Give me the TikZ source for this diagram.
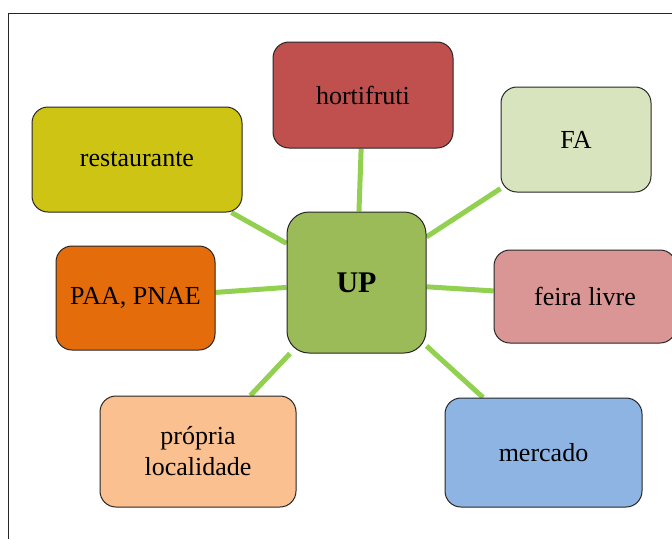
\documentclass[tikz,border=0pt]{standalone}
\usepackage{fontspec}
\setmainfont{Liberation Serif}
\usetikzlibrary{backgrounds}

\definecolor{linkgreen}{RGB}{146,208,80}
\definecolor{upgreen}{RGB}{155,187,89}
\definecolor{hortired}{RGB}{192,80,77}
\definecolor{falight}{RGB}{215,228,189}
\definecolor{restyellow}{RGB}{205,196,19}
\definecolor{paaorange}{RGB}{228,108,10}
\definecolor{feirapink}{RGB}{217,150,148}
\definecolor{propriapeach}{RGB}{250,192,144}
\definecolor{mercadoblue}{RGB}{142,180,227}

\begin{document}
\begin{tikzpicture}[x=1pt,y=-1pt,
  box/.style={draw=black!85,line width=1pt,rounded corners=16pt,inner sep=0pt,
    align=center,font=\fontsize{26}{31}\selectfont},
  link/.style={draw=linkgreen,line width=5pt}]
  \useasboundingbox (0,0) rectangle (672,539);
  \draw[line width=1pt,black!85] (8,539) -- (8,13) -- (672,13);

  \node[box,fill=upgreen,rounded corners=22pt,minimum width=139pt,minimum height=141pt,
    font=\fontsize{30}{34}\selectfont\bfseries] (up) at (356.5,282.5) {UP};
  \node[box,fill=hortired,minimum width=180pt,minimum height=106pt] (horti) at (363,95) {hortifruti};
  \node[box,fill=falight,minimum width=150pt,minimum height=105pt] (fa) at (576,139.5) {FA};
  \node[box,fill=restyellow,minimum width=210pt,minimum height=105pt] (rest) at (137,159.5) {restaurante};
  \node[box,fill=paaorange,minimum width=159pt,minimum height=104pt] (paa) at (135.5,298) {PAA, PNAE};
  \node[box,fill=feirapink,minimum width=182pt,minimum height=93pt] (feira) at (585,296.5) {feira livre};
  \node[box,fill=propriapeach,minimum width=196pt,minimum height=111pt] (propria) at (198,451.5) {própria\\localidade};
  \node[box,fill=mercadoblue,minimum width=197pt,minimum height=109pt] (mercado) at (543.5,452.5) {mercado};

  \begin{scope}[on background layer]
    \foreach \n in {horti,fa,rest,paa,feira,propria,mercado}
      \draw[link] (up) -- (\n);
  \end{scope}
\end{tikzpicture}
\end{document}
